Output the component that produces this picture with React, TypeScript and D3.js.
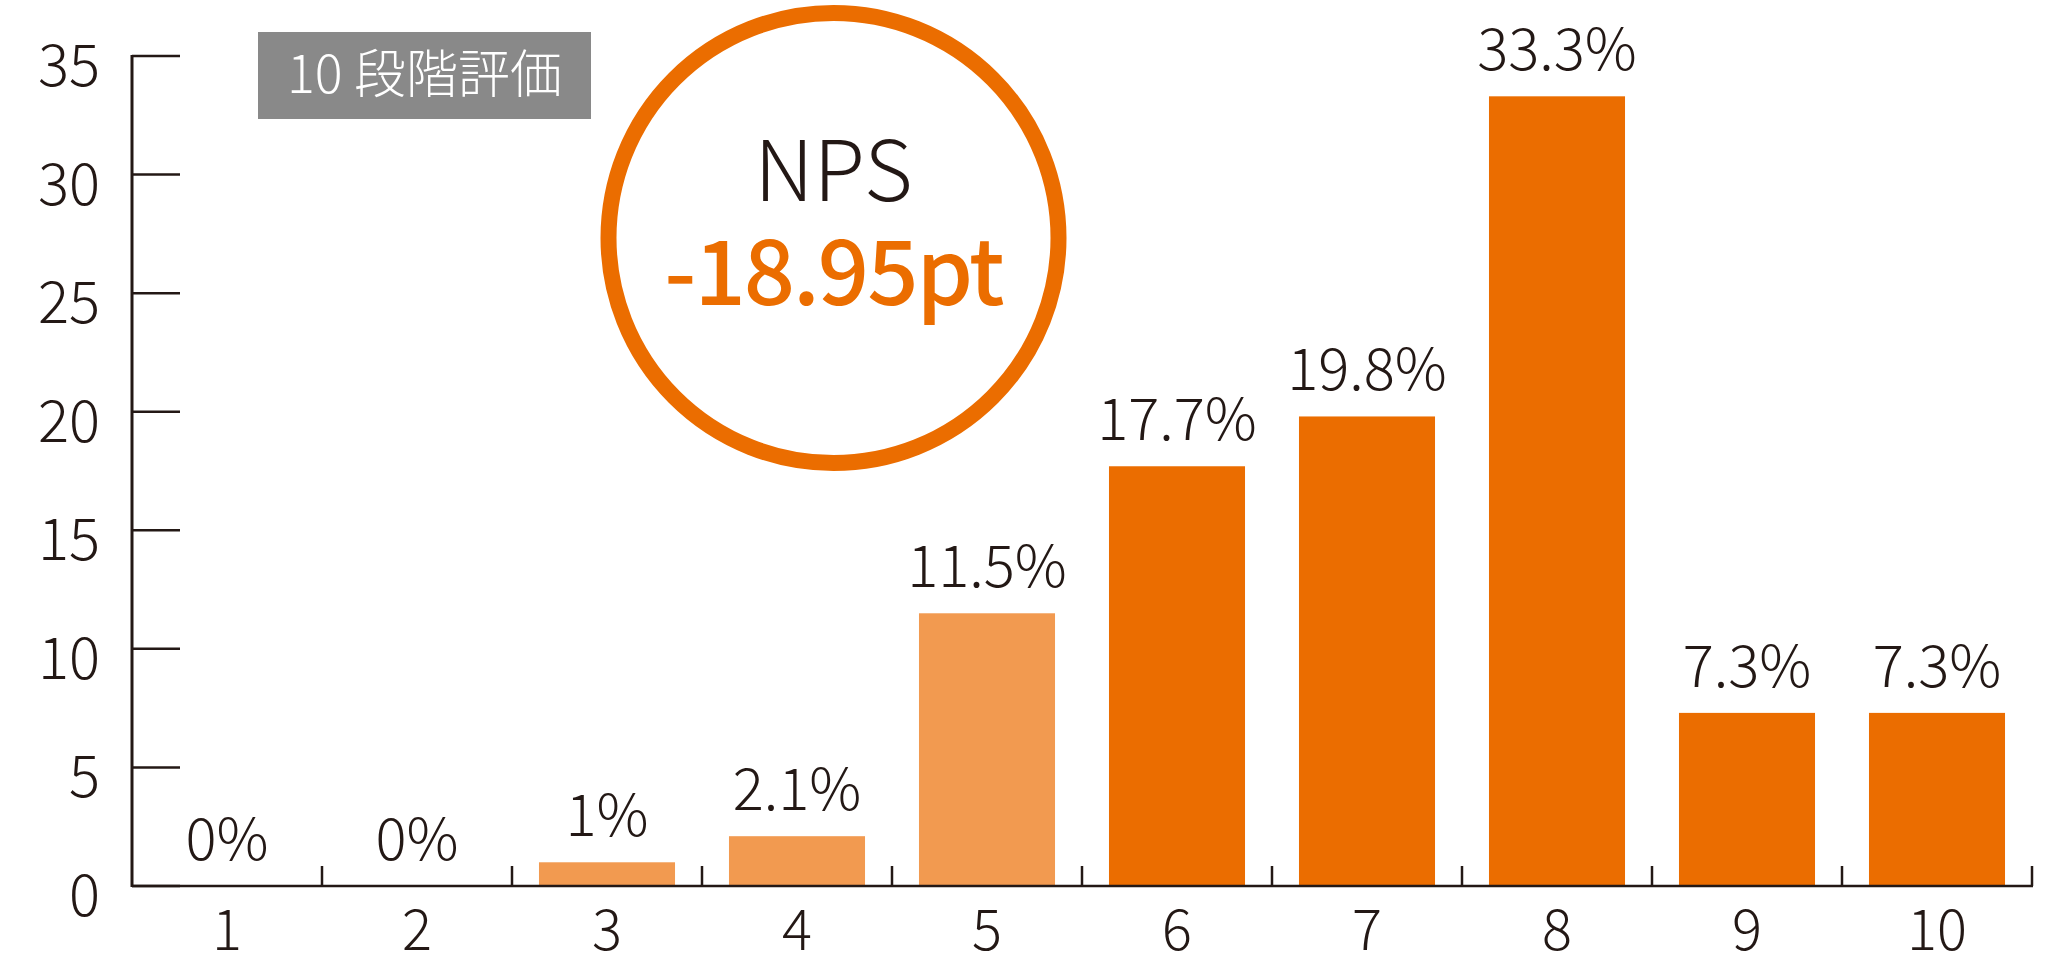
import React from 'react';
import * as d3 from 'd3';

// 10段階評価の回答分布
const categories = ['1', '2', '3', '4', '5', '6', '7', '8', '9', '10'];
const shares = [0, 0, 1, 2.1, 11.5, 17.7, 19.8, 33.3, 7.3, 7.3];
const shareLabels = ['0%', '0%', '1%', '2.1%', '11.5%', '17.7%', '19.8%', '33.3%', '7.3%', '7.3%'];
const tones = ['light', 'light', 'light', 'light', 'light', 'dark', 'dark', 'dark', 'dark', 'dark'];
const yTicks = [0, 5, 10, 15, 20, 25, 30, 35];
const badgeText = '10 段階評価';
const npsTitle = 'NPS';
const npsValue = '-18.95pt';

const W = 2067;
const H = 961;
const INK = '#231815';
const ORANGE = '#eb6d00';
const LIGHT = '#f29a50';
const FONT = '"Noto Sans CJK JP", "Noto Sans", sans-serif';

export default function App() {
  const x = d3.scaleBand<string>()
    .domain(categories)
    .range([132, 2032])
    .paddingInner(0.284)
    .paddingOuter(0.142);
  const y = d3.scaleLinear().domain([0, 35]).range([886, 56]);

  const step = x.step();
  const gap = (step - x.bandwidth()) / 2;
  // separators between categories on the base line
  const sepX = categories.slice(1).map(c => (x(c) as number) - gap).concat([2032]);

  return (
    <svg width={W} height={H} style={{ position: 'absolute', left: 0, top: 0, background: '#fff' }}
      fontFamily={FONT}>
      {/* bars */}
      {categories.map((c, i) => (
        <rect key={c} x={x(c)} y={y(shares[i])} width={x.bandwidth()}
          height={y(0) - y(shares[i])} fill={tones[i] === 'light' ? LIGHT : ORANGE} />
      ))}

      {/* y axis */}
      <line x1={132} x2={132} y1={y(35) - 1} y2={y(0) + 1} stroke={INK} strokeWidth={3} />
      {yTicks.map(t => (
        <g key={t}>
          <line x1={132} x2={180} y1={y(t)} y2={y(t)} stroke={INK} strokeWidth={2.5} />
          <text x={100} y={y(t) + 30} textAnchor="end" fontSize={58} fontWeight={300} fill={INK}>{t}</text>
        </g>
      ))}

      {/* x axis */}
      <line x1={132} x2={2033} y1={y(0)} y2={y(0)} stroke={INK} strokeWidth={2.5} />
      {sepX.map((sx, i) => (
        <line key={i} x1={sx} x2={sx} y1={y(0)} y2={y(0) - 20} stroke={INK} strokeWidth={2.5} />
      ))}
      {categories.map(c => (
        <text key={c} x={(x(c) as number) + x.bandwidth() / 2} y={950} textAnchor="middle"
          fontSize={56} fontWeight={300} fill={INK}>{c}</text>
      ))}

      {/* value labels */}
      {categories.map((c, i) => (
        <text key={c} x={(x(c) as number) + x.bandwidth() / 2} y={y(shares[i]) - 26}
          textAnchor="middle" fontSize={58} fontWeight={300} fill={INK}>{shareLabels[i]}</text>
      ))}

      {/* badge */}
      <rect x={258} y={32} width={333} height={87} fill="#898989" />
      <text x={424.5} y={93} textAnchor="middle" fontSize={52} fontWeight={300} fill="#fff">{badgeText}</text>

      {/* NPS circle */}
      <circle cx={833.5} cy={238} r={225} fill="#fff" stroke={ORANGE} strokeWidth={16} />
      <text x={833.5} y={201} textAnchor="middle" fontSize={84} fontWeight={300} fill={INK}>{npsTitle}</text>
      <text x={833.5} y={305} textAnchor="middle" fontSize={90} fontWeight={500} fill={ORANGE}
        letterSpacing={-2}>{npsValue}</text>
    </svg>
  );
}
